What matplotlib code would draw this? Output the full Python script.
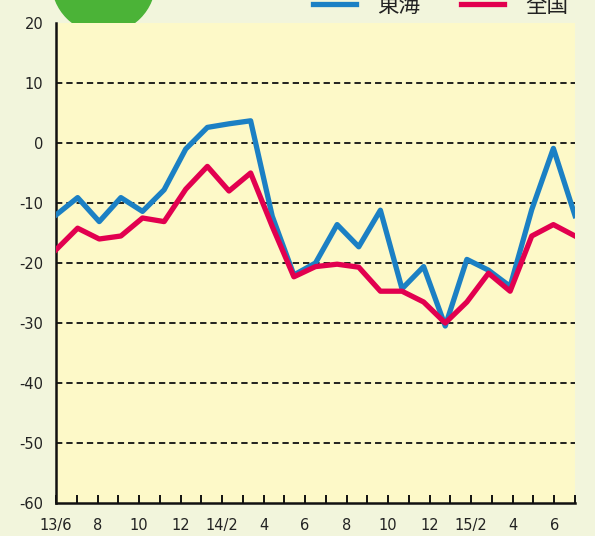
import numpy as np
import matplotlib
matplotlib.use('agg')
import matplotlib.pyplot as plt
from matplotlib.patches import Circle

plt.rcParams['font.family'] = ['Noto Sans CJK JP', 'DejaVu Sans']
plt.rcParams['axes.unicode_minus'] = False

# monthly values, 13/6 .. 15/6
tokai = [-12.0, -9.1, -13.1, -9.1, -11.4, -7.8, -1.0, 2.6, 3.2, 3.7,
         -12.2, -22.0, -20.0, -13.6, -17.3, -11.2, -24.3, -20.6, -30.5,
         -19.4, -21.2, -23.9, -11.1, -0.9, -12.1]
zenkoku = [-17.8, -14.2, -16.0, -15.5, -12.5, -13.1, -7.7, -3.9, -8.0, -5.0,
           -13.9, -22.3, -20.6, -20.2, -20.7, -24.7, -24.7, -26.5, -30.0,
           -26.5, -21.7, -24.7, -15.5, -13.6, -15.5]
x_labels = ['13/6', '8', '10', '12', '14/2', '4', '6', '8', '10', '12', '15/2', '4', '6']
y_ticks = [20, 10, 0, -10, -20, -30, -40, -50, -60]
grid_vals = [10, 0, -10, -20, -30, -40, -50]

bg = '#f2f5dc'
plot_bg = '#fdf9c8'
blue = '#1b80c4'
red = '#e2004f'

fig = plt.figure(figsize=(5.95, 5.36), dpi=100, facecolor=bg)
ax = fig.add_axes([56/595, 33/536, 519/595, 480/536])
ax.set_facecolor(plot_bg)

n = len(tokai)
x = np.arange(n)
for g in grid_vals:
    ax.axhline(g, color='#111111', lw=1.3, ls=(0, (3.5, 2.2)), zorder=1)

ax.plot(x, tokai, color=blue, lw=3.8, label='東海', zorder=3)
ax.plot(x, zenkoku, color=red, lw=3.8, label='全国', zorder=4)

ax.set_xlim(0, n - 1)
ax.set_ylim(-60, 20)

# tick marks: one per month, 26 marks across the axis
ticks = np.linspace(0, n - 1, 26)
ax.set_xticks(ticks)
labs = [''] * 26
for i, lab in enumerate(x_labels):
    labs[2 * i] = lab
ax.set_xticklabels(labs, family='DejaVu Sans')
ax.set_yticks(y_ticks)
ax.set_yticklabels([str(v) for v in y_ticks], family='DejaVu Sans')
ax.tick_params(axis='x', direction='in', length=6, width=1.4, pad=11,
               labelsize=10.5, labelcolor='#222222', color='#111111')
ax.tick_params(axis='y', length=0, pad=9, labelsize=10.5, labelcolor='#222222')

for s in ['top', 'right']:
    ax.spines[s].set_visible(False)
for s in ['left', 'bottom']:
    ax.spines[s].set_linewidth(1.8)
    ax.spines[s].set_color('#111111')

ax.legend(loc='center right', bbox_to_anchor=(588/595, 530/536),
          bbox_transform=fig.transFigure, ncol=2, frameon=False,
          fontsize=15.5, handlelength=2.0, handletextpad=1.0, columnspacing=1.9,
          labelcolor='#222222')

fig.add_artist(Circle((1.035, 5.545), 0.515, transform=fig.dpi_scale_trans,
                      color='#4bb337', zorder=0))

fig.savefig('out.png', dpi=100, facecolor=bg)
